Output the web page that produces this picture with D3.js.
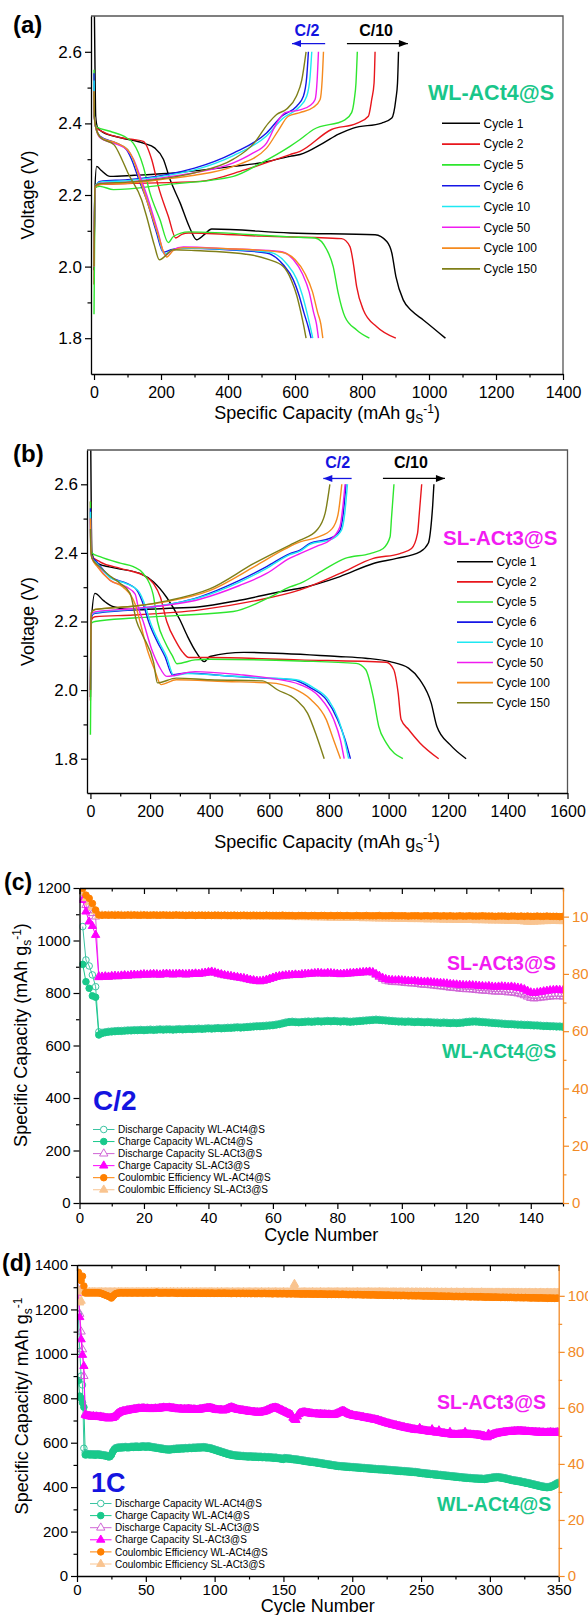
<!DOCTYPE html>
<html>
<head>
<meta charset="utf-8">
<script src="https://cdnjs.cloudflare.com/ajax/libs/d3/7.8.5/d3.min.js"></script>
<style>
  html, body { margin: 0; padding: 0; background: #fff; }
  svg { display: block; }
</style>
</head>
<body>
<svg id="fig" width="588" height="1615"></svg>
<script>
// ===================== Voltage profiles: [capacity mAh/gS, voltage V] =====================
const cycleLabels = ['Cycle 1', 'Cycle 2', 'Cycle 5', 'Cycle 6', 'Cycle 10', 'Cycle 50', 'Cycle 100', 'Cycle 150'];

// WL-ACt4@S (panel a)
const wlDis1 = [[1,2.72],[3,2.55],[5,2.42],[10,2.39],[27,2.375],[80,2.36],[147,2.345],[182,2.331],[207,2.30],[227,2.243],[257,2.178],[285,2.11],[306,2.075],[330,2.09],[351,2.105],[585,2.094],[839,2.089],[874,2.07],[889,2.038],[901,1.973],[923,1.907],[950,1.875],[983,1.851],[1049,1.80]];
const wlChg1 = [[0,1.99],[2,2.2],[8,2.28],[20,2.27],[48,2.252],[120,2.255],[216,2.26],[416,2.28],[500,2.29],[585,2.308],[615,2.313],[684,2.345],[730,2.37],[774,2.387],[859,2.401],[889,2.415],[901,2.467],[906,2.513],[909,2.60]];
const wlDis2 = [[0,2.49],[1,2.42],[5,2.39],[30,2.375],[80,2.36],[117,2.355],[147,2.35],[172,2.30],[192,2.224],[222,2.14],[244,2.08],[262,2.09],[282,2.094],[500,2.085],[739,2.078],[764,2.056],[774,2.01],[784,1.944],[804,1.879],[844,1.832],[901,1.80]];
const wlChg2 = [[0,1.95],[3,2.22],[18,2.229],[100,2.232],[316,2.238],[450,2.27],[585,2.313],[615,2.322],[709,2.383],[784,2.40],[819,2.42],[829,2.467],[836,2.513],[839,2.60]];
const wlDis5 = [[0,2.55],[1,2.42],[8,2.39],[48,2.378],[97,2.36],[117,2.345],[147,2.28],[167,2.206],[197,2.131],[222,2.067],[237,2.084],[282,2.097],[585,2.083],[660,2.08],[695,2.047],[714,2.0],[729,1.926],[749,1.86],[784,1.823],[822,1.80]];
const wlChg5 = [[0,1.867],[3,2.22],[18,2.224],[58,2.215],[216,2.229],[416,2.252],[500,2.29],[585,2.336],[615,2.355],[655,2.383],[749,2.41],[769,2.43],[777,2.467],[782,2.513],[786,2.60]];
const wlDis6 = [[0,2.54],[1,2.42],[5,2.39],[18,2.364],[67,2.345],[97,2.327],[112,2.30],[135,2.24],[157,2.187],[185,2.1],[207,2.04],[230,2.047],[267,2.052],[400,2.047],[515,2.038],[565,2.005],[595,1.963],[612,1.92],[627,1.87],[640,1.83],[648,1.80]];
const wlChg6 = [[0,2.0],[3,2.22],[18,2.238],[100,2.243],[216,2.257],[300,2.275],[416,2.317],[515,2.373],[560,2.42],[605,2.448],[625,2.476],[635,2.53],[640,2.60]];
const wlDis10 = [[0,2.52],[1,2.42],[5,2.39],[18,2.362],[67,2.343],[100,2.327],[116,2.30],[140,2.24],[160,2.187],[188,2.1],[210,2.035],[232,2.045],[267,2.052],[400,2.048],[525,2.04],[575,2.008],[605,1.965],[622,1.92],[636,1.87],[646,1.83],[653,1.80]];
const wlChg10 = [[0,2.0],[3,2.225],[18,2.236],[100,2.24],[216,2.254],[300,2.27],[416,2.31],[515,2.365],[565,2.415],[612,2.445],[635,2.476],[645,2.53],[650,2.60]];
const wlDis50 = [[0,2.49],[1,2.42],[5,2.39],[18,2.36],[67,2.342],[100,2.325],[118,2.30],[142,2.24],[162,2.187],[190,2.1],[213,2.032],[235,2.047],[267,2.055],[400,2.05],[555,2.042],[595,2.02],[622,1.98],[642,1.93],[656,1.87],[664,1.84],[670,1.80]];
const wlChg50 = [[0,2.0],[3,2.225],[18,2.233],[100,2.236],[216,2.25],[300,2.262],[416,2.29],[470,2.315],[515,2.345],[545,2.40],[570,2.43],[615,2.438],[645,2.45],[660,2.467],[666,2.52],[670,2.60]];
const wlDis100 = [[0,2.49],[1,2.42],[5,2.39],[18,2.362],[67,2.345],[100,2.327],[117,2.30],[138,2.24],[157,2.187],[188,2.1],[217,2.027],[237,2.045],[267,2.053],[400,2.05],[560,2.04],[600,2.02],[630,1.98],[652,1.93],[668,1.87],[677,1.84],[683,1.80]];
const wlChg100 = [[0,2.0],[3,2.222],[18,2.23],[100,2.233],[216,2.245],[300,2.255],[416,2.28],[515,2.331],[550,2.38],[580,2.42],[615,2.43],[655,2.445],[675,2.467],[681,2.52],[685,2.60]];
const wlDis150 = [[0,2.49],[1,2.42],[5,2.39],[20,2.36],[60,2.34],[83,2.30],[102,2.26],[142,2.187],[157,2.14],[180,2.06],[195,2.019],[237,2.047],[300,2.045],[466,2.033],[520,2.02],[565,2.0],[590,1.96],[605,1.92],[618,1.87],[627,1.83],[633,1.80]];
const wlChg150 = [[0,2.0],[3,2.225],[18,2.232],[100,2.236],[200,2.245],[300,2.262],[416,2.30],[478,2.345],[520,2.40],[545,2.425],[575,2.44],[604,2.476],[620,2.52],[633,2.60]];

// SL-ACt3@S (panel b)
const slDis1 = [[1,2.72],[3,2.5],[5,2.40],[21,2.37],[88,2.355],[166,2.34],[211,2.316],[256,2.27],[300,2.205],[326,2.156],[355,2.11],[382,2.083],[401,2.098],[514,2.11],[829,2.098],[923,2.093],[1005,2.083],[1067,2.064],[1105,2.03],[1143,1.962],[1162,1.894],[1206,1.841],[1260,1.80]];
const slChg1 = [[0,1.98],[3,2.2],[15,2.282],[45,2.26],[77,2.243],[144,2.234],[250,2.238],[367,2.243],[500,2.262],[669,2.292],[703,2.297],[837,2.331],[949,2.369],[1027,2.384],[1105,2.403],[1133,2.428],[1144,2.495],[1148,2.54],[1152,2.60]];
const slDis2 = [[0,2.55],[1,2.43],[5,2.39],[32,2.374],[100,2.355],[144,2.345],[177,2.335],[211,2.311],[235,2.27],[256,2.2],[288,2.14],[310,2.11],[330,2.095],[400,2.095],[700,2.088],[992,2.081],[1017,2.06],[1032,1.992],[1042,1.914],[1067,1.885],[1105,1.846],[1168,1.80]];
const slChg2 = [[0,1.97],[3,2.205],[15,2.214],[144,2.219],[367,2.234],[550,2.26],[703,2.292],[837,2.34],[949,2.384],[1038,2.398],[1077,2.413],[1097,2.457],[1103,2.515],[1111,2.60]];
const slDis5 = [[0,2.55],[1,2.43],[5,2.40],[32,2.389],[100,2.37],[144,2.36],[177,2.34],[210,2.28],[225,2.2],[250,2.14],[275,2.1],[290,2.077],[351,2.088],[400,2.09],[700,2.085],[891,2.078],[923,2.06],[948,1.982],[967,1.894],[992,1.846],[1048,1.80]];
const slChg5 = [[0,1.87],[3,2.195],[15,2.20],[144,2.21],[300,2.218],[479,2.229],[600,2.27],[669,2.301],[703,2.311],[781,2.35],[854,2.384],[938,2.398],[982,2.413],[1005,2.447],[1010,2.505],[1018,2.60]];
const slDis6 = [[0,2.53],[1,2.42],[5,2.39],[21,2.374],[66,2.33],[122,2.311],[155,2.292],[180,2.243],[195,2.2],[225,2.14],[250,2.098],[275,2.045],[326,2.05],[450,2.042],[577,2.035],[678,2.03],[740,2.006],[791,1.972],[829,1.914],[854,1.856],[872,1.80]];
const slChg6 = [[0,2.0],[3,2.215],[15,2.224],[150,2.235],[367,2.272],[500,2.32],[591,2.36],[669,2.398],[703,2.408],[736,2.428],[803,2.442],[837,2.466],[848,2.515],[857,2.60]];
const slDis10 = [[0,2.52],[1,2.42],[5,2.385],[21,2.37],[66,2.328],[122,2.31],[160,2.29],[185,2.243],[200,2.2],[230,2.14],[255,2.098],[280,2.042],[326,2.048],[450,2.042],[577,2.036],[690,2.03],[750,2.006],[798,1.972],[832,1.914],[852,1.856],[866,1.80]];
const slChg10 = [[0,2.0],[3,2.218],[15,2.226],[150,2.237],[367,2.27],[500,2.315],[591,2.355],[669,2.395],[703,2.405],[736,2.425],[810,2.44],[842,2.466],[853,2.515],[862,2.60]];
const slDis50 = [[0,2.5],[1,2.42],[5,2.385],[21,2.365],[66,2.32],[122,2.30],[150,2.28],[160,2.243],[177,2.2],[205,2.12],[230,2.07],[256,2.04],[351,2.054],[500,2.045],[600,2.035],[703,2.016],[766,1.982],[816,1.914],[838,1.856],[851,1.80]];
const slChg50 = [[0,2.0],[3,2.22],[15,2.228],[150,2.238],[367,2.265],[500,2.305],[591,2.34],[669,2.385],[703,2.398],[760,2.42],[803,2.437],[837,2.477],[846,2.53],[854,2.60]];
const slDis100 = [[0,2.5],[1,2.42],[5,2.385],[21,2.362],[66,2.32],[110,2.30],[150,2.25],[166,2.2],[190,2.12],[215,2.06],[237,2.016],[288,2.03],[451,2.025],[602,2.021],[678,2.006],[740,1.972],[791,1.914],[815,1.856],[838.6,1.80]];
const slChg100 = [[0,2.0],[3,2.225],[15,2.235],[150,2.245],[256,2.258],[400,2.29],[550,2.36],[650,2.41],[703,2.432],[760,2.445],[810,2.47],[830,2.51],[843,2.60]];
const slDis150 = [[0,2.47],[1,2.42],[5,2.385],[30,2.36],[70,2.33],[100,2.311],[133,2.282],[155,2.2],[175,2.16],[212,2.08],[225,2.021],[288,2.035],[400,2.03],[577,2.027],[627,2.001],[690,1.972],[728,1.933],[759,1.865],[784,1.80]];
const slChg150 = [[0,2.0],[3,2.225],[15,2.235],[150,2.245],[256,2.26],[400,2.295],[550,2.37],[669,2.423],[703,2.437],[759,2.466],[787,2.515],[803,2.60]];

// tick values for the voltage panels
const capTicksA = [0, 200, 400, 600, 800, 1000, 1200, 1400];
const capMinorA = [100, 300, 500, 700, 900, 1100, 1300];
const capTicksB = [0, 200, 400, 600, 800, 1000, 1200, 1400, 1600];
const capMinorB = [100, 300, 500, 700, 900, 1100, 1300, 1500];
const voltTicks = [1.8, 2.0, 2.2, 2.4, 2.6];
const voltMinor = [1.9, 2.1, 2.3, 2.5];

// ===================== Cycling at C/2 (panel c), one value per cycle =====================
const cWlDis = [
1053,926,903,869,824,652,650,652,654,655,
656,657,657,658,659,659,660,660,661,660,
661,662,661,662,663,662,663,663,662,663,
664,663,664,665,664,665,666,665,666,667,
666,667,668,667,668,669,669,670,671,670,
671,672,673,674,675,675,676,677,678,679,
681,683,686,689,691,692,691,690,691,692,
693,692,693,694,693,694,695,694,695,694,
693,694,693,692,693,694,695,696,697,698,
699,700,699,698,697,696,695,694,693,693,
692,693,692,691,692,691,690,691,690,689,
689,688,689,688,687,688,687,688,689,691,
692,693,693,692,691,690,689,688,687,686,
685,684,683,683,682,681,681,680,680,679,
678,678,677,676,676,675,675,674,674,673];
const cWlChg = [
909,843,818,789,784,640,646,649,651,652,
653,654,654,655,656,656,657,657,658,657,
658,659,658,659,660,659,660,660,659,660,
661,660,661,662,661,662,663,662,663,664,
663,664,665,664,665,666,666,667,668,667,
668,669,670,671,672,672,673,674,675,676,
678,680,683,686,688,689,688,687,688,689,
690,689,690,691,690,691,692,691,692,691,
690,691,690,689,690,691,692,693,694,695,
696,697,696,695,694,693,692,691,690,690,
689,690,689,688,689,688,687,688,687,686,
686,685,686,685,684,685,684,685,686,688,
689,690,690,689,688,687,686,685,684,683,
682,681,680,680,679,678,678,677,677,676,
675,675,674,673,673,672,672,671,671,670];
const cSlDis = [
1162,1135,1116,1104,1091,864,861,862,861,863,
864,863,865,866,865,867,868,867,869,870,
869,870,871,870,869,871,872,871,870,871,
872,871,870,871,872,873,872,874,876,878,
880,877,873,870,867,865,863,861,859,857,
855,852,849,847,845,844,846,849,853,857,
861,863,865,866,867,868,869,868,870,871,
872,873,874,875,874,873,875,874,873,872,
871,872,873,874,875,876,877,878,879,880,
877,869,861,853,847,844,842,841,841,840,
838,837,836,836,834,832,831,831,829,828,
826,825,824,822,820,819,818,816,815,814,
814,813,811,810,809,808,808,806,805,805,
805,804,802,802,800,798,795,791,786,781,
779,780,782,783,785,786,787,788,787,786];
const cSlChg = [
1154,1110,1072,1055,1021,860,862,863,862,864,
865,864,866,867,866,868,869,868,870,871,
870,871,872,871,870,872,873,872,871,872,
873,872,871,872,873,874,873,875,877,879,
881,878,874,871,868,866,864,862,860,858,
856,853,850,848,846,845,847,850,854,858,
862,864,866,867,868,869,870,869,871,872,
873,874,875,876,875,874,876,875,874,873,
872,873,874,875,876,877,878,879,880,881,
879,872,865,858,853,850,849,848,849,848,
847,846,845,846,844,843,842,843,841,840,
839,838,837,836,834,833,832,831,830,829,
830,829,828,827,826,825,826,824,823,824,
825,824,823,824,822,820,818,814,808,802,
800,802,804,806,808,810,811,812,811,810];
const cWlCE = [
109.9,107.5,106.4,104.6,102.3,100.6,100.5,100.6,100.5,100.6,
100.5,100.6,100.5,100.5,100.6,100.5,100.6,100.5,100.5,100.6,
100.5,100.5,100.6,100.5,100.5,100.6,100.5,100.5,100.5,100.6,
100.5,100.5,100.4,100.5,100.5,100.4,100.5,100.5,100.4,100.5,
100.4,100.5,100.5,100.4,100.5,100.4,100.4,100.5,100.4,100.4,
100.5,100.4,100.4,100.5,100.4,100.4,100.4,100.5,100.4,100.4,
100.4,100.4,100.5,100.4,100.4,100.4,100.3,100.4,100.4,100.4,
100.3,100.4,100.4,100.3,100.4,100.4,100.3,100.4,100.3,100.4,
100.4,100.3,100.4,100.3,100.3,100.4,100.3,100.3,100.4,100.3,
100.3,100.3,100.4,100.3,100.3,100.3,100.4,100.3,100.3,100.3,
100.3,100.2,100.3,100.3,100.3,100.2,100.3,100.3,100.2,100.3,
100.3,100.2,100.3,100.2,100.3,100.2,100.2,100.3,100.2,100.2,
100.3,100.2,100.2,100.2,100.3,100.2,100.2,100.2,100.1,100.2,
100.2,100.2,100.1,100.2,100.2,100.1,100.2,100.1,100.2,100.1,
100.1,100.2,100.1,100.1,100.2,100.1,100.1,100.1,100.0,100.1];
const cSlCE = [
108.5,106.4,105.0,103.4,101.8,100.3,100.4,100.3,100.4,100.3,
100.4,100.3,100.4,100.3,100.3,100.4,100.3,100.3,100.4,100.3,
100.3,100.3,100.2,100.3,100.3,100.2,100.3,100.3,100.2,100.3,
100.2,100.3,100.2,100.2,100.3,100.2,100.2,100.2,100.3,100.2,
100.2,100.2,100.1,100.2,100.2,100.1,100.2,100.1,100.1,100.2,
100.1,100.1,100.1,100.0,100.1,100.1,100.0,100.1,100.0,100.0,
100.0,99.9,100.0,99.9,99.9,99.9,99.8,99.9,99.8,99.8,
99.8,99.8,99.7,99.8,99.7,99.7,99.7,99.6,99.7,99.6,
99.6,99.6,99.5,99.6,99.5,99.5,99.5,99.4,99.5,99.4,
99.4,99.4,99.3,99.4,99.3,99.3,99.3,99.2,99.3,99.2,
99.2,99.2,99.1,99.2,99.1,99.1,99.1,99.0,99.1,99.0,
99.0,99.0,98.9,99.0,98.9,98.9,98.9,98.8,98.9,98.8,
98.8,98.8,98.7,98.8,98.7,98.7,98.7,98.6,98.7,98.6,
98.6,98.6,98.5,98.6,98.5,98.5,98.4,98.3,98.2,98.2,
98.2,98.3,98.3,98.4,98.4,98.5,98.5,98.5,98.4,98.4];

// ===================== Cycling at 1C (panel d), one value per cycle =====================
const dWlDis = [
1180,1010,900,860,575,555,551,551,550,550,
549,550,549,549,550,549,548,547,546,545,
544,542,541,541,548,561,571,577,579,580,
581,580,582,581,583,582,581,582,583,584,
583,584,585,584,583,584,585,586,585,584,
585,586,584,583,582,581,580,579,578,577,
576,575,574,573,572,572,571,572,573,574,
574,575,576,575,576,577,576,577,578,577,
578,579,578,579,580,579,580,581,580,581,
581,582,581,580,579,578,577,575,573,571,
569,567,565,563,561,559,557,555,553,551,
550,548,547,546,545,544,544,543,543,542,
542,541,541,540,540,541,540,539,540,539,
539,538,539,538,537,538,537,536,537,536,
536,535,534,535,534,533,532,531,530,529,
533,532,531,531,530,529,528,527,527,526,
525,524,523,522,521,520,519,518,517,516,
516,515,514,513,512,511,510,509,508,507,
506,505,504,503,502,501,500,499,498,497,
497,496,496,495,495,494,494,493,493,492,
492,491,491,490,490,489,489,488,488,487,
487,486,486,485,485,484,484,483,483,482,
482,482,481,481,480,480,479,479,478,478,
477,477,476,476,475,475,474,474,473,473,
472,472,471,471,470,470,469,468,467,466,
465,465,464,463,463,462,461,461,460,459,
459,458,457,457,456,455,455,454,453,453,
452,451,451,450,449,449,448,447,447,446,
445,445,444,444,443,443,442,442,441,441,
441,440,440,440,439,439,440,441,442,443,
444,445,446,446,447,447,446,445,444,443,
442,440,439,437,436,434,433,432,431,430,
429,428,426,425,424,422,421,420,418,417,
415,414,412,411,409,408,406,405,404,403,
402,402,403,404,406,409,412,416,419,422];
const dWlChg = [
880,810,800,780,760,545,546,547,545,546,
545,546,544,545,546,545,544,543,542,541,
540,538,536,537,545,558,568,573,575,576,
577,576,578,577,579,578,577,578,579,580,
579,580,581,580,579,580,581,582,581,580,
581,582,580,579,578,577,576,575,574,573,
572,571,570,569,568,568,567,568,569,570,
570,571,572,571,572,573,572,573,574,573,
574,575,574,575,576,575,576,577,576,577,
577,578,577,576,575,574,573,571,569,567,
565,563,561,559,557,555,553,551,549,547,
546,544,543,542,541,540,540,539,539,538,
538,537,537,536,536,537,536,535,536,535,
535,534,535,534,533,534,533,532,533,532,
532,531,530,531,530,529,528,527,526,525,
529,528,527,527,526,525,524,523,523,522,
521,520,519,518,517,516,515,514,513,512,
512,511,510,509,508,507,506,505,504,503,
502,501,500,499,498,497,496,495,494,493,
493,492,492,491,491,490,490,489,489,488,
488,487,487,486,486,485,485,484,484,483,
483,482,482,481,481,480,480,479,479,478,
478,478,477,477,476,476,475,475,474,474,
473,473,472,472,471,471,470,470,469,469,
468,468,467,467,466,466,465,464,463,462,
461,461,460,459,459,458,457,457,456,455,
455,454,453,453,452,451,451,450,449,449,
448,447,447,446,445,445,444,443,443,442,
441,441,440,440,439,439,438,438,437,437,
437,436,436,436,435,435,436,437,438,439,
440,441,442,442,443,443,442,441,440,439,
438,436,435,433,432,430,429,428,427,426,
425,424,422,421,420,418,417,416,414,413,
411,410,408,407,405,404,402,401,400,399,
398,398,399,400,402,405,408,412,415,418];
const dSlDis = [
1290,1180,1100,1020,900,730,724,721,720,719,
718,719,717,718,717,716,717,715,714,713,
712,711,710,711,712,713,717,723,729,734,
737,739,741,742,743,745,746,747,748,749,
750,751,752,753,754,753,754,755,754,753,
754,753,752,753,752,753,754,753,754,755,
756,757,758,757,756,757,758,757,756,755,
754,753,752,751,752,751,750,751,750,751,
752,751,750,749,750,749,748,749,750,751,
752,753,754,755,756,757,756,755,753,751,
749,748,747,748,747,746,747,749,752,755,
757,759,758,756,753,751,749,748,747,746,
745,744,743,742,741,740,739,739,738,737,
737,736,737,738,739,741,743,746,749,752,
754,756,757,758,757,755,752,749,746,743,
740,737,734,731,728,725,713,706,703,719,
729,733,735,736,737,736,735,734,733,732,
731,730,729,730,729,728,729,728,727,728,
727,726,727,726,725,726,727,729,732,735,
738,741,743,742,739,735,731,728,726,724,
722,721,720,719,718,717,716,715,713,712,
711,710,709,708,706,705,704,703,701,699,
697,695,693,691,689,687,686,684,682,681,
679,678,676,675,673,672,670,669,667,666,
665,664,662,661,660,659,658,657,660,657,
656,655,654,653,652,651,650,655,649,648,
647,646,650,645,644,643,642,641,640,639,
642,638,637,637,636,636,637,637,638,638,
639,642,638,638,637,637,636,636,635,635,
634,634,633,632,631,629,627,625,633,631,
635,637,639,641,642,643,644,645,646,647,
648,649,649,650,650,651,651,652,652,653,
653,653,652,652,651,651,650,650,649,649,
649,648,648,647,647,647,646,646,646,645,
645,646,646,647,646,646,645,646,647,646];
const dSlChg = [
1275,1165,1065,995,945,725,722,720,719,718,
717,718,716,717,716,715,716,714,713,712,
711,710,709,710,711,712,716,722,728,733,
736,738,740,741,742,744,745,746,747,748,
749,750,751,752,753,752,753,754,753,752,
753,752,751,752,751,752,753,752,753,754,
755,756,757,756,755,756,757,756,755,754,
753,752,751,750,751,750,749,750,749,750,
751,750,749,748,749,748,747,748,749,750,
751,752,753,754,755,756,755,754,752,750,
748,747,746,747,746,745,746,748,751,754,
756,758,757,755,752,750,748,747,746,745,
744,743,742,741,740,739,738,738,737,736,
736,735,736,737,738,740,742,745,748,751,
753,755,756,757,756,754,751,748,745,742,
739,736,733,730,727,724,712,705,702,718,
728,732,734,735,736,735,734,733,732,731,
730,729,728,729,728,727,728,727,726,727,
726,725,726,725,724,725,726,728,731,734,
737,740,742,741,738,734,730,727,725,723,
721,720,719,718,717,716,715,714,712,711,
710,709,708,707,705,704,703,702,700,698,
696,694,692,690,688,686,685,683,681,680,
678,677,675,674,672,671,669,668,666,665,
664,663,661,660,659,658,657,656,666,656,
655,654,653,652,651,650,649,660,648,647,
646,645,655,644,643,642,641,640,639,638,
648,637,636,636,635,635,636,636,637,637,
638,648,637,637,636,636,635,635,634,634,
633,633,632,631,630,628,626,624,640,630,
634,636,638,640,641,642,643,644,645,646,
647,648,648,649,649,650,650,651,651,652,
652,652,651,651,650,650,649,649,648,648,
648,647,647,646,646,646,645,645,645,644,
644,645,645,646,645,645,644,645,646,645];
const dWlCE = [
108.4,106.6,105.4,107.0,103.5,101.0,101.1,101.0,101.1,101.0,
101.1,101.0,101.1,101.0,101.1,101.0,101.0,100.8,100.6,100.4,
100.2,100.0,99.8,99.6,99.2,99.8,100.3,100.7,100.9,101.0,
101.0,101.1,101.0,101.0,101.1,101.0,101.0,101.1,101.0,101.0,
101.0,101.1,101.0,101.0,101.0,101.1,101.0,101.0,101.0,101.1,
101.0,101.0,101.1,101.0,101.0,101.0,101.1,101.3,101.0,101.0,
101.0,101.0,101.0,101.1,101.0,101.0,101.0,101.0,101.1,101.0,
101.0,101.0,100.9,101.0,101.0,101.0,100.9,101.0,101.0,100.9,
101.0,101.0,100.9,101.0,100.9,101.0,101.0,100.9,101.0,100.9,
100.9,101.0,100.9,100.9,101.0,100.9,100.9,101.0,100.9,100.9,
100.9,100.9,101.0,100.9,100.9,100.9,101.0,100.9,100.9,100.9,
100.9,100.8,100.9,100.9,100.9,100.8,100.9,100.9,100.8,100.9,
100.9,100.8,100.9,100.8,100.9,100.8,100.8,100.9,100.8,100.8,
100.8,100.9,100.8,100.8,100.8,100.9,100.8,100.8,100.8,100.8,
100.8,100.7,100.8,100.8,100.8,100.7,100.8,100.8,100.7,100.8,
100.8,100.7,100.7,100.8,100.7,100.7,100.8,100.7,100.7,100.7,
100.7,100.7,100.6,100.7,100.7,100.6,100.7,100.7,100.6,100.7,
100.6,100.6,100.7,100.6,100.6,100.6,100.7,100.6,100.6,100.6,
100.6,100.5,100.6,100.6,100.5,100.6,100.6,100.5,100.6,100.5,
100.5,100.5,100.6,100.5,100.5,100.5,100.4,100.5,100.5,100.4,
100.5,100.4,100.4,100.5,100.4,100.4,100.4,100.3,100.4,100.4,
100.3,100.4,100.3,100.3,100.4,100.3,100.3,100.3,100.2,100.3,
100.3,100.2,100.3,100.2,100.2,100.3,100.2,100.2,100.2,100.1,
100.2,100.2,100.1,100.2,100.1,100.1,100.2,100.1,100.1,100.1,
100.0,100.1,100.1,100.0,100.1,100.0,100.0,100.1,100.0,100.0,
100.0,99.9,100.0,100.0,99.9,100.0,99.9,99.9,100.0,99.9,
99.9,99.9,99.8,99.9,99.9,99.8,99.9,99.8,99.8,99.9,
99.8,99.8,99.8,99.7,99.8,99.8,99.7,99.8,99.7,99.7,
99.7,99.8,99.7,99.7,99.7,99.6,99.7,99.7,99.6,99.7,
99.6,99.6,99.7,99.6,99.6,99.6,99.5,99.6,99.6,99.5,
99.6,99.5,99.5,99.6,99.5,99.5,99.5,99.4,99.5,99.5,
99.4,99.5,99.4,99.4,99.5,99.4,99.4,99.4,99.3,99.4,
99.4,99.3,99.4,99.3,99.3,99.4,99.3,99.3,99.3,99.2,
99.3,99.3,99.2,99.3,99.2,99.2,99.3,99.2,99.2,99.2,
99.2,99.1,99.2,99.2,99.1,99.2,99.1,99.1,99.2,99.1];
const dSlCE = [
102.0,97.6,98.2,101.5,101.3,101.2,101.3,101.2,101.3,101.2,
101.3,101.2,101.3,101.2,101.2,101.3,101.2,101.3,101.2,101.2,
101.3,101.2,101.2,101.3,101.2,101.2,101.3,101.2,101.2,101.3,
101.2,101.3,101.2,101.2,101.3,101.2,101.3,101.2,101.2,101.3,
101.2,101.2,101.3,101.2,101.3,101.2,101.2,101.3,101.2,101.2,
101.3,101.2,101.2,101.3,101.2,101.3,101.2,101.2,101.3,101.2,
101.2,101.3,101.2,101.2,101.3,101.2,101.2,101.3,101.2,101.3,
101.2,101.2,101.3,101.2,101.2,101.3,101.2,101.2,101.3,101.2,
101.3,101.2,101.2,101.3,101.2,101.2,101.3,101.2,101.2,101.3,
101.2,101.2,101.3,101.2,101.2,101.3,101.2,101.3,101.2,101.2,
101.2,101.3,101.2,101.2,101.3,101.2,101.2,101.2,101.3,101.2,
101.2,101.2,101.3,101.2,101.2,101.2,101.3,101.2,101.2,101.2,
101.3,101.2,101.2,101.2,101.3,101.2,101.2,101.2,101.2,101.3,
101.2,101.2,101.2,101.3,101.2,101.2,101.2,101.2,101.3,101.2,
101.2,101.2,101.2,101.3,101.2,101.2,101.2,101.2,101.2,101.3,
101.2,101.2,101.2,101.2,101.3,101.2,102.5,104.2,102.3,101.2,
101.2,101.2,101.2,101.2,101.3,101.2,101.2,101.2,101.2,101.2,
101.3,101.2,101.2,101.2,101.2,101.2,101.3,101.2,101.2,101.2,
101.2,101.2,101.3,101.2,101.2,101.2,101.2,101.2,101.3,101.2,
101.2,101.2,101.2,101.2,101.2,101.3,101.2,101.2,101.2,101.2,
101.2,101.2,101.2,101.3,101.2,101.2,101.2,101.2,101.2,101.2,
101.2,101.3,101.2,101.2,101.2,101.2,101.2,101.2,101.2,101.3,
101.2,101.2,101.2,101.2,101.2,101.2,101.1,101.2,101.2,101.2,
101.2,101.2,101.1,101.2,101.2,101.2,101.2,101.1,101.2,101.2,
101.2,101.1,101.2,101.2,101.1,101.2,101.2,101.1,101.2,101.2,
101.1,101.2,101.1,101.2,101.2,101.1,101.2,101.1,101.1,101.2,
101.1,101.2,101.1,101.1,101.2,101.1,101.1,101.2,101.1,101.1,
101.1,101.2,101.1,101.1,101.1,101.2,101.1,101.1,101.1,101.1,
101.2,101.1,101.1,101.1,101.1,101.1,101.2,101.1,101.1,101.1,
101.1,101.1,101.1,101.2,101.1,101.1,101.1,101.1,101.1,101.1,
101.1,101.1,101.0,101.1,101.1,101.1,101.1,101.0,101.1,101.1,
101.1,101.0,101.1,101.1,101.0,101.1,101.1,101.0,101.1,101.0,
101.1,101.0,101.1,101.0,101.0,101.1,101.0,101.0,101.1,101.0,
101.0,101.0,101.1,101.0,101.0,101.0,101.1,101.0,101.0,101.0,
101.0,101.1,101.0,101.0,101.0,101.0,101.1,101.0,101.0,101.0];

// tick values for the cycling panels
const cycTicksC = [0, 20, 40, 60, 80, 100, 120, 140];
const cycMinorC = [10, 30, 50, 70, 90, 110, 130, 150];
const capTicksC = [0, 200, 400, 600, 800, 1000, 1200];
const capMinorC = [100, 300, 500, 700, 900, 1100];
const cycTicksD = [0, 50, 100, 150, 200, 250, 300, 350];
const cycMinorD = [25, 75, 125, 175, 225, 275, 325];
const capTicksD = [0, 200, 400, 600, 800, 1000, 1200, 1400];
const capMinorD = [100, 300, 500, 700, 900, 1100, 1300];
const ceTicks = [0, 20, 40, 60, 80, 100];
const ceMinor = [10, 30, 50, 70, 90];

// ===================== drawing =====================
const FONT = '"Liberation Sans", Arial, Helvetica, sans-serif';
const svg = d3.select('#fig');
const cycleColors = ['#000000', '#e8161c', '#2ee62e', '#1616e6', '#1ee8f2', '#f01cf0', '#f58a1e', '#7f7f18'];
const GREEN = '#19c68a', MAGENTA = '#f21cf2', BLUE = '#1414e0', ORANGE_AX = '#f28a26';

function addAxis(g, axis, tx, ty, color, size, keepDomain) {
  const a = g.append('g').attr('transform', `translate(${tx},${ty})`).call(axis);
  a.attr('font-family', FONT).attr('font-size', size);
  a.selectAll('path.domain').attr('stroke', color).attr('stroke-width', 1.3);
  a.selectAll('.tick line').attr('stroke', color).attr('stroke-width', 1.2);
  a.selectAll('.tick text').attr('fill', color);
  if (!keepDomain) a.select('.domain').remove();
  return a;
}

function addText(g, x, y, str, opt) {
  return g.append('text').attr('x', x).attr('y', y)
    .attr('font-family', FONT).attr('font-size', opt.size || 16)
    .attr('font-weight', opt.bold ? 'bold' : 'normal')
    .attr('text-anchor', opt.anchor || 'start')
    .attr('fill', opt.color || '#000').text(str);
}

function unitTitle(g, x, y, rotate, parts) {
  const t = g.append('text').attr('font-family', FONT).attr('font-size', 18).attr('text-anchor', 'middle')
    .attr('transform', `translate(${x},${y})` + (rotate ? ' rotate(-90)' : ''));
  parts.forEach(p => {
    const s = t.append('tspan').text(p.text);
    if (p.dy) s.attr('dy', p.dy);
    if (p.size) s.attr('font-size', p.size);
  });
}

function rateArrow(g, x1, x2, y, color) {
  g.append('line').attr('x1', x1).attr('x2', x2).attr('y1', y).attr('y2', y)
    .attr('stroke', color).attr('stroke-width', 1.3);
  const dir = Math.sign(x2 - x1);
  g.append('path').attr('d', `M${x2},${y}L${x2 - dir * 9},${y - 3.5}L${x2 - dir * 9},${y + 3.5}Z`).attr('fill', color);
}

function voltagePanel(o) {
  const g = svg.append('g');
  const x = d3.scaleLinear().domain(o.xDomain).range([o.left, o.right]);
  const y = d3.scaleLinear().domain([1.7, 2.7]).range([o.bottom, o.top]);
  svg.append('clipPath').attr('id', o.id).append('rect')
    .attr('x', o.left).attr('y', o.top).attr('width', o.right - o.left).attr('height', o.bottom - o.top);
  const line = d3.line().x(d => x(d[0])).y(d => y(d[1])).curve(d3.curveMonotoneX);
  const cg = g.append('g').attr('clip-path', `url(#${o.id})`);
  o.curves.forEach((pair, i) => {
    pair.forEach(seg => cg.append('path').attr('d', line(seg)).attr('fill', 'none')
      .attr('stroke', cycleColors[i]).attr('stroke-width', 1.4).attr('stroke-linejoin', 'round'));
  });
  g.append('path').attr('d', `M${o.left},${o.top}H${o.right}V${o.bottom}`)
    .attr('fill', 'none').attr('stroke', '#555').attr('stroke-width', 1.3);
  addAxis(g, d3.axisBottom(x).tickValues(o.xTicks).tickFormat(d3.format('d')).tickSize(6).tickSizeOuter(0).tickPadding(7), 0, o.bottom, '#000', 16, true);
  addAxis(g, d3.axisBottom(x).tickValues(o.xMinor).tickFormat('').tickSize(3.5).tickSizeOuter(0), 0, o.bottom, '#000', 16, false);
  addAxis(g, d3.axisLeft(y).tickValues(voltTicks).tickFormat(d3.format('.1f')).tickSize(6).tickSizeOuter(0).tickPadding(3), o.left, 0, '#000', 17, true);
  addAxis(g, d3.axisLeft(y).tickValues(voltMinor).tickFormat('').tickSize(3.5).tickSizeOuter(0), o.left, 0, '#000', 17, false);

  // rate annotations
  addText(g, x(o.halfAt), y(o.rateTextV), 'C/2', {bold: true, size: 16, anchor: 'middle', color: BLUE});
  rateArrow(g, x(o.halfArrow[0]), x(o.halfArrow[1]), y(o.rateArrowV), BLUE);
  addText(g, x(o.tenthAt), y(o.rateTextV), 'C/10', {bold: true, size: 16, anchor: 'middle', color: '#000'});
  rateArrow(g, x(o.tenthArrow[0]), x(o.tenthArrow[1]), y(o.rateArrowV), '#000');

  // sample name + legend
  addText(g, o.nameX, o.nameY, o.name, {bold: true, size: o.nameSize, color: o.nameColor});
  cycleLabels.forEach((lab, i) => {
    const yy = o.legY + i * o.legStep;
    g.append('line').attr('x1', o.legX1).attr('x2', o.legX2).attr('y1', yy).attr('y2', yy)
      .attr('stroke', cycleColors[i]).attr('stroke-width', 1.6);
    addText(g, o.legX2 + 3.5, yy, lab, {size: 12}).attr('dy', '0.36em');
  });

  addText(g, 13, o.tagY, o.tag, {bold: true, size: 24});
  unitTitle(g, 34, (o.top + o.bottom) / 2, true, [{text: 'Voltage (V)'}]);
  unitTitle(g, 327, o.xTitleY, false, [
    {text: 'Specific Capacity (mAh g'}, {text: 'S', size: 12, dy: 4}, {text: '-1', size: 12, dy: -10}, {text: ')', dy: 6}]);
}

voltagePanel({
  id: 'clip-a', left: 91, right: 563, top: 16, bottom: 374, xDomain: [-9, 1400],
  xTicks: capTicksA, xMinor: capMinorA,
  curves: [[wlDis1, wlChg1], [wlDis2, wlChg2], [wlDis5, wlChg5], [wlDis6, wlChg6],
           [wlDis10, wlChg10], [wlDis50, wlChg50], [wlDis100, wlChg100], [wlDis150, wlChg150]],
  halfAt: 636, halfArrow: [690, 591], tenthAt: 842, tenthArrow: [755, 937], rateTextV: 2.643, rateArrowV: 2.623,
  name: 'WL-ACt4@S', nameX: 428, nameY: 100, nameSize: 21.5, nameColor: GREEN,
  legX1: 442, legX2: 480, legY: 123.3, legStep: 20.8,
  tag: '(a)', tagY: 33, xTitleY: 418.5
});

voltagePanel({
  id: 'clip-b', left: 87, right: 567.5, top: 450, bottom: 793, xDomain: [-11.5, 1600],
  xTicks: capTicksB, xMinor: capMinorB,
  curves: [[slDis1, slChg1], [slDis2, slChg2], [slDis5, slChg5], [slDis6, slChg6],
           [slDis10, slChg10], [slDis50, slChg50], [slDis100, slChg100], [slDis150, slChg150]],
  halfAt: 829, halfArrow: [876, 781], tenthAt: 1075, tenthArrow: [981, 1189], rateTextV: 2.647, rateArrowV: 2.617,
  name: 'SL-ACt3@S', nameX: 443, nameY: 545, nameSize: 20.5, nameColor: MAGENTA,
  legX1: 457, legX2: 493, legY: 561.7, legStep: 20.15,
  tag: '(b)', tagY: 462, xTitleY: 848
});

// ---------- cycling panels ----------
const seriesLook = [
  {label: 'Discharge Capacity WL-ACt4@S', color: '#3cc4a2', symbol: d3.symbolCircle, filled: false, right: false, size: 34},
  {label: 'Charge Capacity WL-ACt4@S', color: '#19c98b', symbol: d3.symbolCircle, filled: true, right: false, size: 34},
  {label: 'Discharge Capacity SL-ACt3@S', color: '#d066d6', symbol: d3.symbolTriangle, filled: false, right: false, size: 30},
  {label: 'Charge Capacity SL-ACt3@S', color: '#ff00ff', symbol: d3.symbolTriangle, filled: true, right: false, size: 30},
  {label: 'Coulombic Efficiency WL-ACt4@S', color: '#ff8000', symbol: d3.symbolCircle, filled: true, right: true, size: 34},
  {label: 'Coulombic Efficiency SL-ACt3@S', color: '#f9c490', symbol: d3.symbolTriangle, filled: true, right: true, size: 30}
];
const drawOrder = [0, 1, 2, 3, 5, 4];

function cyclingPanel(o) {
  const g = svg.append('g');
  const x = d3.scaleLinear().domain([0, o.nCycles]).range([o.left, o.right]);
  const yL = d3.scaleLinear().domain([0, o.capMax]).range([o.bottom, o.top]);
  const yR = d3.scaleLinear().domain([0, o.ceMax]).range([o.bottom, o.top]);
  svg.append('clipPath').attr('id', o.id).append('rect')
    .attr('x', o.left).attr('y', o.top).attr('width', o.right - o.left).attr('height', o.bottom - o.top);
  const cg = g.append('g').attr('clip-path', `url(#${o.id})`);

  drawOrder.forEach(k => {
    const s = seriesLook[k];
    const sc = s.right ? yR : yL;
    const pts = o.series[k].map((v, i) => [x(i + 1), sc(v)]);
    cg.append('path').attr('d', d3.line()(pts)).attr('fill', 'none')
      .attr('stroke', s.color).attr('stroke-width', 1);
    const sym = d3.symbol().type(s.symbol).size(s.size)();
    cg.append('g').selectAll('path').data(pts).join('path')
      .attr('transform', d => `translate(${d[0]},${d[1]})`)
      .attr('d', sym)
      .attr('fill', s.filled ? s.color : 'none')
      .attr('stroke', s.color).attr('stroke-width', 1);
  });

  // axes
  addAxis(g, d3.axisBottom(x).tickValues(o.xTicks).tickFormat(d3.format('d')).tickSize(6).tickSizeOuter(0).tickPadding(o.xPad), 0, o.bottom, '#000', 15, true);
  addAxis(g, d3.axisBottom(x).tickValues(o.xMinor).tickFormat('').tickSize(3.5).tickSizeOuter(0), 0, o.bottom, '#000', 15, false);
  addAxis(g, d3.axisTop(x).tickValues(o.xTicks).tickFormat('').tickSize(-6).tickSizeOuter(0), 0, o.top, '#000', 15, true);
  addAxis(g, d3.axisTop(x).tickValues(o.xMinor).tickFormat('').tickSize(-3.5).tickSizeOuter(0), 0, o.top, '#000', 15, false);
  addAxis(g, d3.axisLeft(yL).tickValues(o.yTicks).tickFormat(d3.format('d')).tickSize(6).tickSizeOuter(0).tickPadding(3), o.left, 0, '#000', 15, true);
  addAxis(g, d3.axisLeft(yL).tickValues(o.yMinor).tickFormat('').tickSize(3.5).tickSizeOuter(0), o.left, 0, '#000', 15, false);
  addAxis(g, d3.axisRight(yR).tickValues(ceTicks).tickFormat(d3.format('d')).tickSize(6).tickSizeOuter(0).tickPadding(3), o.right, 0, ORANGE_AX, 15, true);
  addAxis(g, d3.axisRight(yR).tickValues(ceMinor).tickFormat('').tickSize(3.5).tickSizeOuter(0), o.right, 0, ORANGE_AX, 15, false);

  // labels
  addText(g, o.rateX, o.rateY, o.rate, {bold: true, size: o.rateSize, color: BLUE});
  addText(g, o.slX, o.slY, 'SL-ACt3@S', {bold: true, size: 19.5, color: MAGENTA});
  addText(g, o.wlX, o.wlY, 'WL-ACt4@S', {bold: true, size: 19.5, color: GREEN});

  // legend
  seriesLook.forEach((s, i) => {
    const yy = o.legY + i * o.legStep;
    g.append('line').attr('x1', o.legX1).attr('x2', o.legX2).attr('y1', yy).attr('y2', yy)
      .attr('stroke', s.color).attr('stroke-width', 1);
    g.append('path').attr('transform', `translate(${(o.legX1 + o.legX2) / 2},${yy})`)
      .attr('d', d3.symbol().type(s.symbol).size(s.size)())
      .attr('fill', s.filled ? s.color : '#fff').attr('stroke', s.color).attr('stroke-width', 1);
    addText(g, o.legX2 + 3.5, yy, s.label, {size: 10}).attr('dy', '0.36em');
  });

  addText(g, o.tagX, o.tagY, o.tag, {bold: true, size: 23});
  unitTitle(g, o.yTitleX, o.yTitleY, true, o.yTitle);
  unitTitle(g, (o.left + o.right) / 2, o.xTitleY, false, [{text: 'Cycle Number'}]);
}

cyclingPanel({
  id: 'clip-c', left: 79.5, right: 563, top: 888, bottom: 1203,
  nCycles: 150, capMax: 1200, ceMax: 110,
  series: [cWlDis, cWlChg, cSlDis, cSlChg, cWlCE, cSlCE],
  xTicks: cycTicksC, xMinor: cycMinorC, yTicks: capTicksC, yMinor: capMinorC, xPad: 3,
  rate: 'C/2', rateX: 93, rateY: 1110, rateSize: 28,
  slX: 447, slY: 970, wlX: 442, wlY: 1058,
  legX1: 93, legX2: 114.5, legY: 1129.5, legStep: 12.05,
  tag: '(c)', tagX: 4, tagY: 890,
  yTitleX: 27, yTitleY: 1035,
  yTitle: [{text: 'Specific Capacity (mAh g'}, {text: 's', size: 12, dy: 4}, {text: '-1', size: 12, dy: -10}, {text: ')', dy: 6}],
  xTitleY: 1241
});

cyclingPanel({
  id: 'clip-d', left: 77, right: 558.7, top: 1265, bottom: 1576,
  nCycles: 350, capMax: 1400, ceMax: 111,
  series: [dWlDis, dWlChg, dSlDis, dSlChg, dWlCE, dSlCE],
  xTicks: cycTicksD, xMinor: cycMinorD, yTicks: capTicksD, yMinor: capMinorD, xPad: 2,
  rate: '1C', rateX: 91, rateY: 1492, rateSize: 27,
  slX: 437, slY: 1409, wlX: 437, wlY: 1511,
  legX1: 90, legX2: 111.5, legY: 1503.5, legStep: 12.1,
  tag: '(d)', tagX: 2, tagY: 1271,
  yTitleX: 28, yTitleY: 1406,
  yTitle: [{text: 'Specific Capacity/ mAh g'}, {text: 's', size: 12, dy: 4}, {text: '-1', size: 12, dy: -10}],
  xTitleY: 1612
});
</script>
</body>
</html>
